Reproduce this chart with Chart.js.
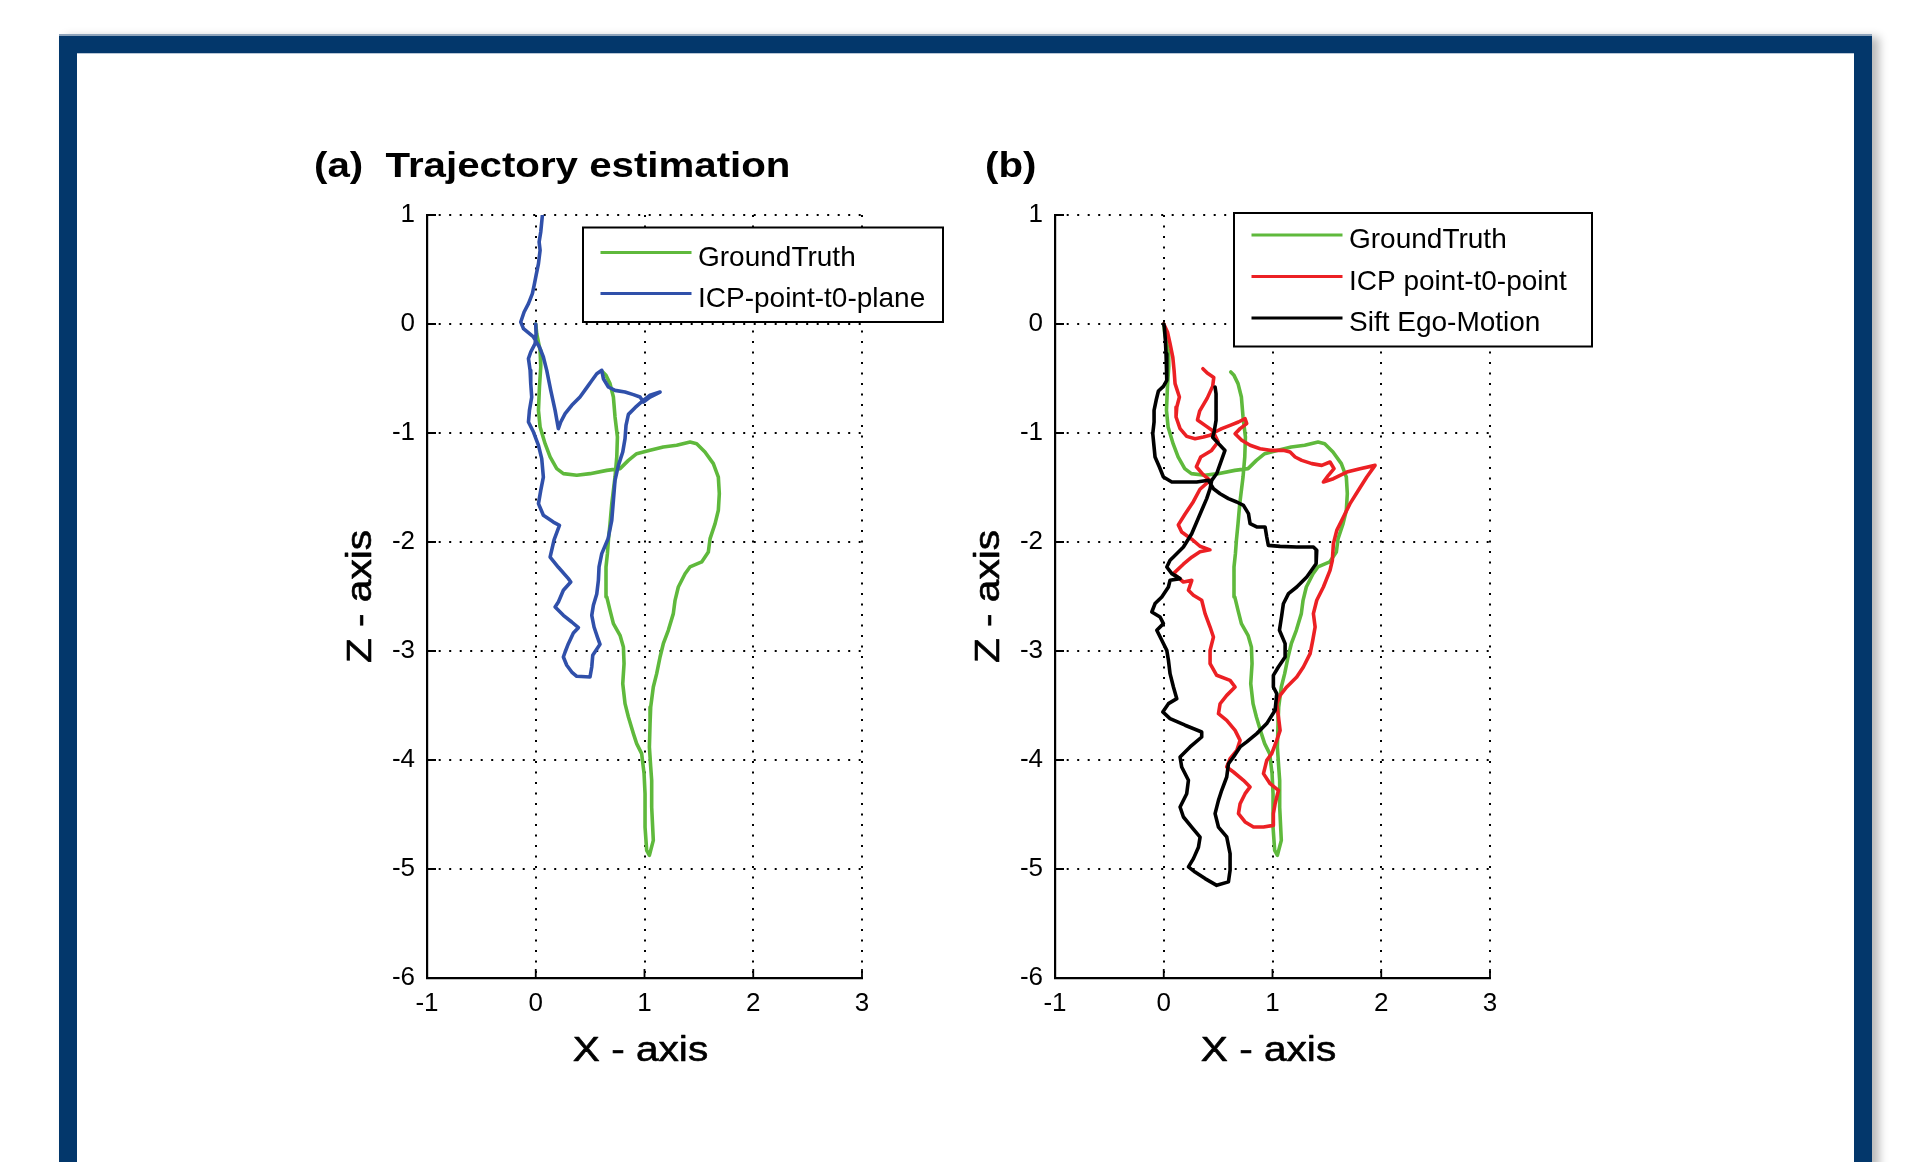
<!DOCTYPE html>
<html>
<head>
<meta charset="utf-8">
<title>Trajectory estimation</title>
<script src="https://cdn.jsdelivr.net/npm/chart.js@4.4.1/dist/chart.umd.min.js"></script>
<style>
  html, body { margin: 0; padding: 0; background: #ffffff; }
  body { width: 1921px; height: 1162px; position: relative; overflow: hidden; }
  #frame {
    position: absolute; left: 59px; top: 34px; width: 1813px; height: 1160px;
    background: #03376b; border-top: 2px solid #8ea3ba; box-sizing: border-box;
    box-shadow: 7px 3px 9px rgba(0, 0, 0, 0.28);
  }
  #sheet {
    position: absolute; left: 77px; top: 53px; width: 1777px; height: 1140px;
    background: #ffffff; border-top: 1px solid #b8c6d6; box-sizing: border-box;
  }
  .panel { position: absolute; top: 110px; width: 720px; height: 990px; }
  #panelA { left: 260px; }
  #panelB { left: 888px; }
</style>
</head>
<body>
<div id="frame"></div>
<div id="sheet"></div>
<canvas id="panelA" class="panel" width="720" height="990"></canvas>
<canvas id="panelB" class="panel" width="720" height="990"></canvas>
<script>
// Axis ticks (metres)
const xTicks = [-1, 0, 1, 2, 3];
const zTicks = [1, 0, -1, -2, -3, -4, -5, -6];

// Ground-truth trajectory
const gtX = [
  0, 0.009, 0.04, 0.046, 0.034, 0.025, 0.04, 0.086, 0.132, 0.193,
  0.254, 0.377, 0.499, 0.653, 0.775, 0.852, 0.928, 1.051, 1.173, 1.296,
  1.419, 1.48, 1.556, 1.633, 1.679, 1.688, 1.679, 1.649, 1.603, 1.587,
  1.526, 1.418, 1.373, 1.311, 1.281, 1.265, 1.219, 1.173, 1.143, 1.112,
  1.081, 1.057, 1.051, 1.045, 1.057, 1.066, 1.066, 1.081, 1.045, 1.02,
  1.005, 1.005, 0.996, 0.974, 0.928, 0.898, 0.852, 0.821, 0.8, 0.812,
  0.806, 0.775, 0.714, 0.683, 0.653, 0.646, 0.646, 0.659, 0.668, 0.683,
  0.699, 0.729, 0.745, 0.751, 0.729, 0.714, 0.683, 0.646, 0.616
];
const gtZ = [
  0, -0.089, -0.242, -0.394, -0.578, -0.792, -0.945, -1.098, -1.22, -1.327,
  -1.373, -1.388, -1.373, -1.343, -1.327, -1.251, -1.19, -1.159, -1.128, -1.113,
  -1.083, -1.098, -1.174, -1.281, -1.404, -1.557, -1.709, -1.832, -1.969, -2.092,
  -2.183, -2.229, -2.291, -2.413, -2.535, -2.657, -2.81, -2.933, -3.055, -3.208,
  -3.33, -3.514, -3.667, -3.881, -4.064, -4.187, -4.431, -4.737, -4.875, -4.829,
  -4.615, -4.309, -4.125, -3.942, -3.85, -3.758, -3.606, -3.483, -3.3, -3.116,
  -2.963, -2.856, -2.749, -2.627, -2.504, -2.352, -2.229, -2.107, -1.985, -1.832,
  -1.648, -1.404, -1.22, -1.037, -0.853, -0.67, -0.547, -0.471, -0.44
];

// ICP point-to-plane estimate
const planeX = [
  0, 0.003, -0.006, -0.046, -0.067, -0.052, -0.046, -0.037, -0.058, -0.067,
  -0.021, 0.025, 0.055, 0.07, 0.046, 0.025, 0.07, 0.162, 0.218, 0.17,
  0.132, 0.208, 0.3, 0.322, 0.254, 0.208, 0.178, 0.254, 0.331, 0.392,
  0.346, 0.3, 0.27, 0.254, 0.285, 0.331, 0.377, 0.499, 0.515, 0.524,
  0.591, 0.567, 0.536, 0.515, 0.53, 0.561, 0.576, 0.582, 0.607, 0.665,
  0.699, 0.714, 0.729, 0.76, 0.8, 0.821, 0.83, 0.852, 0.913, 0.983,
  1.051, 1.143, 1.051, 0.99, 0.959, 0.898, 0.821, 0.729, 0.668, 0.622,
  0.607, 0.561, 0.506, 0.484, 0.407, 0.331, 0.27, 0.23, 0.208, 0.178,
  0.138, 0.101, 0.07, 0.034, -0.021, -0.113, -0.138, -0.107, -0.067, -0.031,
  -0.015, 0.003, 0.025, 0.04, 0.031, 0.046, 0.061
];
const planeZ = [
  0, -0.089, -0.18, -0.257, -0.318, -0.425, -0.547, -0.67, -0.792, -0.899,
  -0.991, -1.113, -1.235, -1.404, -1.526, -1.648, -1.755, -1.817, -1.847, -1.975,
  -2.138, -2.232, -2.336, -2.367, -2.443, -2.55, -2.596, -2.673, -2.734, -2.786,
  -2.835, -2.933, -3.009, -3.055, -3.131, -3.193, -3.232, -3.238, -3.147, -3.04,
  -2.939, -2.872, -2.78, -2.673, -2.581, -2.477, -2.352, -2.229, -2.107, -1.97,
  -1.801, -1.618, -1.434, -1.297, -1.174, -1.052, -0.93, -0.829, -0.768, -0.706,
  -0.654, -0.624, -0.67, -0.716, -0.67, -0.648, -0.624, -0.609, -0.578, -0.502,
  -0.425, -0.456, -0.532, -0.563, -0.67, -0.746, -0.823, -0.899, -0.96, -0.792,
  -0.609, -0.425, -0.303, -0.211, -0.119, -0.043, 0.018, 0.11, 0.187, 0.278,
  0.355, 0.446, 0.554, 0.676, 0.752, 0.844, 0.997
];

// ICP point-to-point estimate
const pointX = [
  0, 0.034, 0.058, 0.083, 0.095, 0.104, 0.144, 0.12, 0.113, 0.15,
  0.211, 0.288, 0.365, 0.426, 0.472, 0.533, 0.61, 0.687, 0.748, 0.763,
  0.702, 0.656, 0.717, 0.794, 0.886, 0.978, 1.1, 1.162, 1.208, 1.269,
  1.361, 1.453, 1.529, 1.566, 1.514, 1.468, 1.56, 1.683, 1.805, 1.943,
  1.867, 1.79, 1.713, 1.652, 1.591, 1.56, 1.55, 1.529, 1.468, 1.407,
  1.376, 1.392, 1.37, 1.346, 1.284, 1.223, 1.131, 1.07, 1.039, 1.055,
  1.07, 1.039, 0.993, 0.947, 0.917, 0.978, 1.055, 1.024, 1.008, 1.008,
  0.917, 0.825, 0.748, 0.687, 0.702, 0.748, 0.794, 0.733, 0.641, 0.579,
  0.61, 0.672, 0.702, 0.656, 0.579, 0.503, 0.518, 0.579, 0.656, 0.61,
  0.487, 0.426, 0.426, 0.457, 0.426, 0.38, 0.349, 0.273, 0.227, 0.258,
  0.181, 0.089, 0.18, 0.257, 0.333, 0.425, 0.333, 0.257, 0.165, 0.134,
  0.195, 0.272, 0.333, 0.425, 0.36, 0.3, 0.34, 0.44, 0.5, 0.45,
  0.38, 0.31, 0.33, 0.4, 0.45, 0.46, 0.4, 0.36
];
const pointZ = [
  0, -0.073, -0.18, -0.303, -0.425, -0.547, -0.67, -0.761, -0.853, -0.96,
  -1.031, -1.052, -1.037, -1.021, -0.991, -0.96, -0.93, -0.899, -0.869, -0.914,
  -0.96, -1.006, -1.067, -1.113, -1.144, -1.159, -1.159, -1.174, -1.22, -1.251,
  -1.281, -1.297, -1.266, -1.327, -1.388, -1.45, -1.419, -1.358, -1.327, -1.297,
  -1.404, -1.526, -1.648, -1.771, -1.893, -2.015, -2.17, -2.26, -2.413, -2.535,
  -2.657, -2.78, -2.902, -3.024, -3.147, -3.239, -3.33, -3.407, -3.484, -3.605,
  -3.728, -3.82, -3.942, -4.003, -4.125, -4.217, -4.278, -4.401, -4.492, -4.6,
  -4.615, -4.615, -4.568, -4.492, -4.401, -4.309, -4.247, -4.186, -4.11, -4.064,
  -3.988, -3.911, -3.82, -3.728, -3.636, -3.575, -3.484, -3.407, -3.33, -3.269,
  -3.223, -3.116, -2.994, -2.872, -2.78, -2.657, -2.535, -2.489, -2.443, -2.352,
  -2.367, -2.29, -2.204, -2.139, -2.089, -2.072, -2.039, -1.974, -1.909, -1.843,
  -1.745, -1.63, -1.516, -1.434, -1.38, -1.31, -1.22, -1.16, -1.08, -0.98,
  -0.93, -0.88, -0.8, -0.68, -0.57, -0.49, -0.45, -0.41
];

// SIFT ego-motion estimate
const siftX = [
  0, 0.006, 0.015, 0.021, 0.028, 0.028, -0.003, -0.049, -0.07, -0.089,
  -0.089, -0.101, -0.089, -0.08, -0.04, -0.003, 0.074, 0.181, 0.303, 0.411,
  0.457, 0.518, 0.595, 0.671, 0.733, 0.779, 0.794, 0.855, 0.932, 0.947,
  0.962, 1.07, 1.223, 1.376, 1.407, 1.401, 1.315, 1.223, 1.147, 1.1,
  1.085, 1.064, 1.116, 1.116, 1.054, 1.008, 1.008, 1.039, 1.024, 0.947,
  0.855, 0.763, 0.702, 0.641, 0.595, 0.579, 0.533, 0.503, 0.472, 0.503,
  0.579, 0.61, 0.61, 0.595, 0.487, 0.38, 0.288, 0.227, 0.273, 0.319,
  0.334, 0.257, 0.181, 0.15, 0.211, 0.227, 0.165, 0.15, 0.242, 0.349,
  0.349, 0.196, 0.058, -0.009, 0.043, 0.12, 0.089, 0.058, 0.043, 0.028,
  -0.018, -0.064, -0.003, -0.034, -0.11, -0.08, -0.018, 0.043, 0.058, 0.15,
  0.074, 0.028, 0.058, 0.089, 0.181, 0.257, 0.303, 0.349, 0.395, 0.426,
  0.441, 0.487, 0.563, 0.45, 0.465, 0.481, 0.481, 0.481, 0.472
];
const siftZ = [
  0, -0.028, -0.15, -0.272, -0.394, -0.517, -0.572, -0.615, -0.7, -0.792,
  -0.899, -1.006, -1.128, -1.22, -1.312, -1.404, -1.45, -1.45, -1.45, -1.434,
  -1.511, -1.557, -1.602, -1.633, -1.664, -1.74, -1.832, -1.862, -1.862, -1.954,
  -2.031, -2.04, -2.046, -2.046, -2.076, -2.199, -2.321, -2.413, -2.474, -2.566,
  -2.672, -2.81, -2.932, -3.055, -3.147, -3.223, -3.33, -3.391, -3.544, -3.666,
  -3.758, -3.834, -3.88, -3.972, -4.034, -4.156, -4.278, -4.37, -4.492, -4.615,
  -4.706, -4.859, -5.012, -5.118, -5.15, -5.088, -5.028, -4.981, -4.905, -4.8,
  -4.708, -4.615, -4.523, -4.431, -4.309, -4.186, -4.064, -3.972, -3.88, -3.789,
  -3.743, -3.681, -3.62, -3.559, -3.483, -3.437, -3.33, -3.208, -3.085, -2.994,
  -2.902, -2.81, -2.749, -2.688, -2.642, -2.565, -2.504, -2.413, -2.351, -2.336,
  -2.29, -2.229, -2.168, -2.138, -2.046, -1.924, -1.817, -1.709, -1.602, -1.511,
  -1.434, -1.372, -1.16, -1.04, -0.98, -0.884, -0.761, -0.639, -0.578
];

const FONT = '"Liberation Sans", Arial, Helvetica, sans-serif';
const GREEN = '#5fb93c';
const BLUE = '#3050aa';
const RED = '#ec2024';
const BLACK = '#000000';

// Horizontally widened text; an optional hairline stroke thickens the strokes a little
function stretchText(ctx, text, x, y, font, sx, align, thicken) {
  ctx.save();
  ctx.translate(x, y);
  ctx.scale(sx, 1);
  ctx.font = font;
  ctx.fillStyle = '#000';
  ctx.textAlign = align;
  ctx.textBaseline = 'alphabetic';
  ctx.fillText(text, 0, 0);
  if (thicken) {
    ctx.strokeStyle = '#000';
    ctx.lineWidth = thicken;
    ctx.lineJoin = 'round';
    ctx.strokeText(text, 0, 0);
  }
  ctx.restore();
}

// Heading, axis names, inward tick marks and the boxed legend
function decorations(panel) {
  return {
    id: 'panelDecor',
    afterDraw(chart) {
      const { ctx, chartArea: a, scales: { x, y } } = chart;
      ctx.save();

      ctx.strokeStyle = '#000';
      ctx.lineWidth = 1.8;
      ctx.beginPath();
      xTicks.forEach(v => {
        const px = x.getPixelForValue(v);
        ctx.moveTo(px, a.bottom);
        ctx.lineTo(px, a.bottom - 9);
      });
      zTicks.forEach(v => {
        const py = y.getPixelForValue(v);
        ctx.moveTo(a.left, py);
        ctx.lineTo(a.left + 9, py);
      });
      ctx.stroke();

      stretchText(ctx, panel.heading, a.left + panel.headingDx, a.top - 38,
        'bold 35px ' + FONT, 1.15, 'left', 0);

      stretchText(ctx, 'X - axis', (a.left + a.right) / 2 - 4, a.bottom + 83,
        '35px ' + FONT, 1.16, 'center', 0.6);

      ctx.save();
      ctx.translate(a.left - 56, (a.top + a.bottom) / 2);
      ctx.rotate(-Math.PI / 2);
      stretchText(ctx, 'Z - axis', 0, 0, '35px ' + FONT, 1.16, 'center', 0.6);
      ctx.restore();

      const L = panel.legend;
      const bx = a.left + L.dx;
      const by = a.top + L.dy;
      ctx.fillStyle = '#fff';
      ctx.fillRect(bx, by, L.w, L.h);
      ctx.strokeStyle = '#000';
      ctx.lineWidth = 2;
      ctx.strokeRect(bx, by, L.w, L.h);
      panel.series.forEach((s, i) => {
        const ry = by + L.rows[i];
        ctx.strokeStyle = s.color;
        ctx.lineWidth = 3.2;
        ctx.beginPath();
        ctx.moveTo(bx + 17.5, ry);
        ctx.lineTo(bx + 108.5, ry);
        ctx.stroke();
        ctx.fillStyle = '#000';
        ctx.font = '28px ' + FONT;
        ctx.textAlign = 'left';
        ctx.textBaseline = 'alphabetic';
        ctx.fillText(s.label, bx + 115, ry + 13);
      });

      ctx.restore();
    }
  };
}

function trajectoryChart(canvasId, panel) {
  const n = panel.series.length;
  const datasets = panel.series.map((s, i) => ({
    label: s.label,
    data: s.xs.map((v, k) => ({ x: v, y: s.zs[k] })),
    showLine: true,
    borderColor: s.color,
    backgroundColor: s.color,
    borderWidth: 3.6,
    pointRadius: 0,
    pointHoverRadius: 0,
    tension: 0,
    fill: false,
    borderJoinStyle: 'round',
    borderCapStyle: 'round',
    order: n - i
  }));

  const tickFont = { family: FONT, size: 26 };
  const gridStyle = { color: '#000', lineWidth: 2, drawTicks: false };
  const borderStyle = { display: true, color: '#000', width: 2.2, dash: [2, 8.5] };

  return new Chart(document.getElementById(canvasId), {
    type: 'scatter',
    data: { datasets },
    options: {
      responsive: false,
      maintainAspectRatio: false,
      animation: false,
      devicePixelRatio: 1,
      events: [],
      layout: { padding: { left: 100, top: 105, right: 118, bottom: 60 } },
      scales: {
        x: {
          type: 'linear',
          position: 'bottom',
          min: xTicks[0],
          max: xTicks[xTicks.length - 1],
          afterFit: s => { s.height = 62; },
          afterBuildTicks: s => { s.ticks = xTicks.map(v => ({ value: v })); },
          ticks: { callback: v => String(v), color: '#000', font: tickFont, padding: 10, maxRotation: 0, autoSkip: false },
          grid: gridStyle,
          border: borderStyle
        },
        y: {
          type: 'linear',
          position: 'left',
          min: zTicks[zTicks.length - 1],
          max: zTicks[0],
          afterFit: s => { s.width = 67; },
          afterBuildTicks: s => { s.ticks = zTicks.slice().reverse().map(v => ({ value: v })); },
          ticks: { callback: v => String(v), color: '#000', font: tickFont, padding: 12, autoSkip: false },
          grid: gridStyle,
          border: borderStyle
        }
      },
      plugins: {
        legend: { display: false },
        tooltip: { enabled: false }
      }
    },
    plugins: [decorations(panel)]
  });
}

trajectoryChart('panelA', {
  heading: '(a)  Trajectory estimation',
  headingDx: -113,
  legend: { dx: 156, dy: 12.5, w: 360, h: 94.5, rows: [25, 66] },
  series: [
    { label: 'GroundTruth', xs: gtX, zs: gtZ, color: GREEN },
    { label: 'ICP-point-t0-plane', xs: planeX, zs: planeZ, color: BLUE }
  ]
});

trajectoryChart('panelB', {
  heading: '(b)',
  headingDx: -70,
  legend: { dx: 179, dy: -2, w: 358, h: 133.5, rows: [22, 63.5, 105] },
  series: [
    { label: 'GroundTruth', xs: gtX, zs: gtZ, color: GREEN },
    { label: 'ICP point-t0-point', xs: pointX, zs: pointZ, color: RED },
    { label: 'Sift Ego-Motion', xs: siftX, zs: siftZ, color: BLACK }
  ]
});
</script>
</body>
</html>
